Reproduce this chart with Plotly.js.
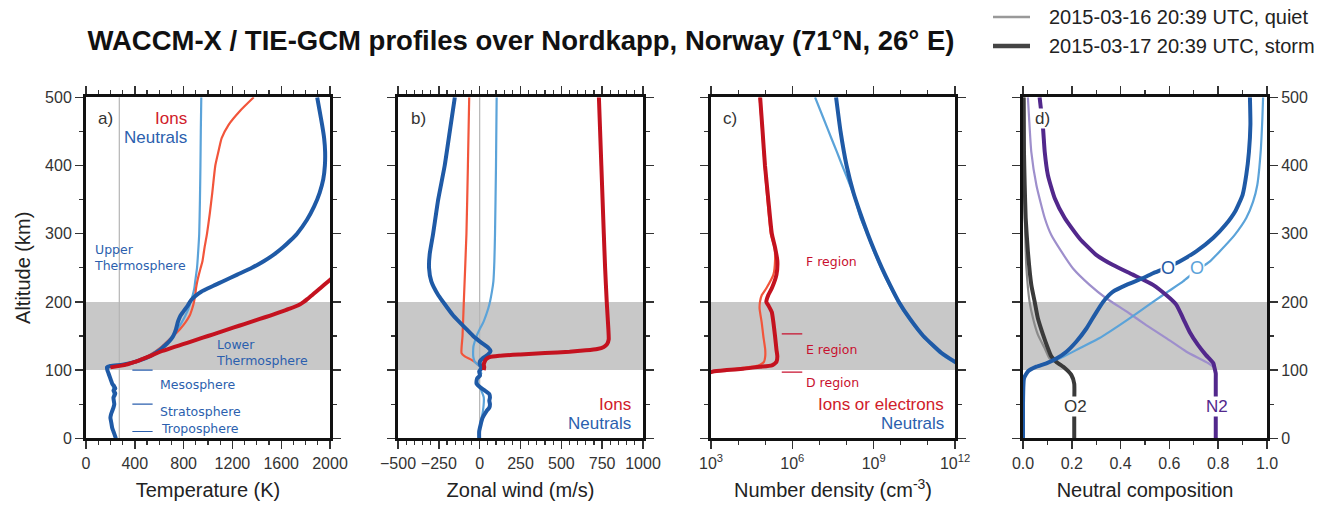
<!DOCTYPE html>
<html><head><meta charset="utf-8">
<script src="https://cdn.plot.ly/plotly-3.0.1.min.js"></script>
<style>html,body{margin:0;padding:0;background:#fff}#chart{width:1333px;height:506px}</style>
</head><body><div id="chart"></div>
<script>
// ---------- Panel a: temperature (K) ----------
const altTempStormNeutral = [0,5,10,15,20,25,30,35,40,45,50,55,60,63,66,70,73,76,80,85,90,95,100,104,106,108,111,115,120,125,130,135,140,145,150,155,160,165,170,175,180,185,190,195,200,205,210,215,220,225,230,240,250,260,270,280,290,300,320,340,360,380,400,420,440,460,480,500];
const tempStormNeutral = [245,235,225,215,210,205,200,205,215,225,232,228,225,235,240,225,240,232,215,205,195,185,175,172,200,300,380,450,520,570,610,640,670,695,715,728,738,745,752,762,775,795,815,835,852,875,905,945,1000,1060,1120,1240,1360,1460,1545,1615,1675,1730,1810,1870,1915,1945,1958,1960,1952,1935,1915,1895];
const altTempQuietNeutral = [0,10,20,30,40,50,60,70,80,90,100,104,106,108,111,115,120,125,130,135,140,145,150,160,170,180,190,200,210,220,230,250,275,300,350,400,450,500];
const tempQuietNeutral = [245,225,210,200,215,232,225,225,215,195,175,172,200,300,370,440,500,550,590,625,655,685,710,750,785,815,840,858,875,888,895,910,920,928,934,938,941,945];
const altTempQuietIon = [108,111,115,120,125,130,135,140,145,150,160,170,180,190,200,210,220,230,240,250,260,280,300,330,360,400,420,440,460,480,500];
const tempQuietIon = [300,370,440,500,550,590,625,655,685,715,770,815,850,870,885,895,902,912,925,940,955,972,992,1015,1035,1060,1085,1112,1170,1262,1375];
const altTempStormIon = [104,108,112,116,120,124,128,132,136,140,145,150,155,160,165,170,175,180,185,190,195,200,205,210,220,230,240];
const tempStormIon = [200,330,400,460,520,570,625,690,760,830,915,1000,1085,1170,1255,1340,1425,1510,1590,1670,1740,1785,1820,1855,1920,1985,2050];
const atmosphereBoundaryAlt = [100, 50, 10];
const atmosphereLayerNames = ["Mesosphere", "Stratosphere", "Troposphere"];
const referenceTemp = 273;

// ---------- Panel b: zonal wind (m/s) ----------
const altWindStormNeutral = [0,10,20,30,40,45,50,55,60,65,70,75,80,84,88,92,98,103,108,113,118,123,128,133,140,150,160,180,200,210,230,250,270,300,350,400,450,500];
const windStormNeutral = [-3,-3,6,18,42,59,63,59,63,59,32,2,-19,-19,-15,2,-3,12,2,2,22,52,67,52,12,-40,-81,-162,-224,-254,-296,-310,-306,-285,-254,-214,-183,-152];
const altWindQuietNeutral = [0,20,40,60,70,80,85,90,95,100,105,112,118,122,128,135,142,150,160,170,180,190,200,215,230,260,300,400,500];
const windQuietNeutral = [-3,3,20,25,10,-10,-20,-5,10,0,2,-30,-38,-40,-40,-38,-30,-19,0,22,38,52,63,75,84,90,94,100,104];
const altWindQuietIon = [100,105,110,115,120,125,150,200,300,400,500];
const windQuietIon = [2,2,-19,-50,-91,-111,-105,-97,-81,-72,-64];
const altWindStormIon = [100,104,108,112,116,119,121,123,125,127,129,131,134,138,145,160,200,250,300,400,500];
const windStormIon = [25,28,25,30,40,60,120,250,400,550,650,720,760,780,790,788,778,768,760,745,730];

// ---------- Panel c: number density (cm^-3) ----------
const altDensStormIon = [96,97,98,100,102,104,105,107,112,120,130,150,170,185,195,200,210,220,240,260,280,300,350,400,450,500];
const densStormIon = [7e2,1e3,1.2e3,3.8e3,1.55e4,4e4,6.5e4,1.75e5,2.6e5,2.8e5,2.6e5,2.3e5,2e5,1.75e5,1.3e5,1.1e5,1.3e5,1.75e5,2.6e5,2.8e5,2.3e5,1.75e5,1.3e5,9.8e4,8e4,6.5e4];
const altDensQuietIon = [97,98,100,102,104,106,108,112,120,130,150,170,190,200,210,220,240,260,280,300,350,400,450,500];
const densQuietIon = [8e2,1.1e3,2.5e3,8e3,2.1e4,4.5e4,6.5e4,9e4,1e5,1e5,8.5e4,7.4e4,6.2e4,6.4e4,7.5e4,1.1e5,2e5,2.3e5,2.2e5,1.6e5,1.2e5,9.5e4,7.8e4,6.2e4];
const altDensStormNeutral = [105,112,125,150,175,200,225,250,275,300,330,360,400,450,500];
const densStormNeutral = [2e12,1e12,3.2e11,6.8e10,2.2e10,8.5e9,4e9,2e9,1.07e9,6e8,3.2e8,1.8e8,1e8,6e7,4.1e7];
const altDensQuietNeutral = [105,112,125,150,175,200,225,250,275,300,323,350,371,400,420,440,470,500];
const densQuietNeutral = [2e12,8.9e11,2.8e11,6.3e10,2e10,7.9e9,3.7e9,1.86e9,1e9,5.75e8,3.3e8,2.1e8,1.35e8,6.9e7,4.4e7,2.75e7,1.38e7,6.9e6];
const ionosphereBoundaryAlt = [153, 97];

// ---------- Panel d: neutral composition ----------
const altCompStormO = [0,50,80,88,98,105,110,117,127,142,161,181,200,215,225,235,242,249,259,274,294,313,333,357,386,420,460,500];
const compStormO = [0,0,0.002,0.004,0.02,0.055,0.096,0.137,0.178,0.219,0.26,0.294,0.328,0.369,0.424,0.492,0.533,0.58,0.64,0.71,0.78,0.83,0.87,0.90,0.915,0.926,0.932,0.93];
const altCompQuietO = [0,50,80,90,98,107,117,132,147,166,186,200,215,230,244,259,274,298,323,347,371,420,469,500];
const compQuietO = [0,0,0.002,0.008,0.02,0.068,0.15,0.232,0.314,0.396,0.478,0.533,0.594,0.656,0.704,0.765,0.806,0.867,0.915,0.943,0.960,0.974,0.981,0.984];
const altCompStormN2 = [0,50,80,88,95,103,110,122,137,156,176,196,210,225,240,254,269,293,323,352,386,420,455,500];
const compStormN2 = [0.79,0.79,0.79,0.79,0.79,0.785,0.78,0.75,0.717,0.683,0.656,0.628,0.587,0.533,0.45,0.369,0.30,0.232,0.171,0.13,0.102,0.089,0.082,0.068];
const altCompQuietN2 = [0,50,80,95,103,110,127,147,166,186,205,225,249,274,298,323,371,420,469,500];
const compQuietN2 = [0.79,0.79,0.79,0.79,0.785,0.76,0.67,0.587,0.505,0.424,0.342,0.273,0.205,0.157,0.116,0.089,0.055,0.034,0.025,0.02];
const altCompStormO2 = [0,50,80,93,103,112,120,132,152,176,200,225,274,323,371,420,500];
const compStormO2 = [0.21,0.21,0.21,0.198,0.171,0.137,0.116,0.102,0.082,0.061,0.048,0.034,0.02,0.011,0.007,0.004,0.003];
const altCompQuietO2 = [0,50,80,93,103,110,117,132,152,176,200,249,298,371,500];
const compQuietO2 = [0.21,0.21,0.21,0.198,0.171,0.14,0.109,0.089,0.061,0.041,0.027,0.014,0.009,0.005,0.003];

const legendLabels = ["2015-03-16 20:39 UTC, quiet", "2015-03-17 20:39 UTC, storm"];
const tempTicks = [0,400,800,1200,1600,2000];
const windTicks = [-500,-250,0,250,500,750,1000];
const densTicks = [1e3,1e6,1e9,1e12];
const densTickText = ["10<sup>3</sup>","10<sup>6</sup>","10<sup>9</sup>","10<sup>12</sup>"];
const densMinorTicks = [1e4,1e5,1e7,1e8,1e10,1e11];
const compTicks = [0,0.2,0.4,0.6,0.8,1.0];
const altTicks = [0,100,200,300,400,500];

// ---------- styling ----------
const W = 1333, H = 506;
const px = v => v / W, py = v => 1 - v / H;
const C = {
  stormNeutral: '#1f5aa6', quietNeutral: '#5ba3d9',
  stormIon: '#c4121f', quietIon: '#f2553b',
  stormN2: '#52288c', quietN2: '#9e8fcc',
  stormO2: '#3a3a3a', quietO2: '#8a8a8a'
};
const WS = 4, WQ = 2.2;
function tr(x, y, color, width, n) {
  return {x: x, y: y, type: 'scatter', mode: 'lines', showlegend: false, hoverinfo: 'skip',
    line: {color: color, width: width, shape: 'spline', smoothing: 0.5},
    xaxis: n === 1 ? 'x' : 'x' + n, yaxis: n === 1 ? 'y' : 'y' + n};
}
const data = [
  tr(tempQuietNeutral, altTempQuietNeutral, C.quietNeutral, WQ, 1),
  tr(tempQuietIon, altTempQuietIon, C.quietIon, WQ, 1),
  tr(tempStormNeutral, altTempStormNeutral, C.stormNeutral, WS, 1),
  tr(tempStormIon, altTempStormIon, C.stormIon, WS, 1),
  tr(windQuietIon, altWindQuietIon, C.quietIon, WQ, 2),
  tr(windQuietNeutral, altWindQuietNeutral, C.quietNeutral, WQ, 2),
  tr(windStormNeutral, altWindStormNeutral, C.stormNeutral, WS, 2),
  tr(windStormIon, altWindStormIon, C.stormIon, WS, 2),
  tr(densQuietNeutral, altDensQuietNeutral, C.quietNeutral, WQ, 3),
  tr(densStormNeutral, altDensStormNeutral, C.stormNeutral, WS, 3),
  tr(densQuietIon, altDensQuietIon, C.quietIon, WQ, 3),
  tr(densStormIon, altDensStormIon, C.stormIon, WS, 3),
  tr(compQuietO2, altCompQuietO2, C.quietO2, WQ, 4),
  tr(compQuietN2, altCompQuietN2, C.quietN2, WQ, 4),
  tr(compQuietO, altCompQuietO, C.quietNeutral, WQ, 4),
  tr(compStormO2, altCompStormO2, C.stormO2, WS, 4),
  tr(compStormN2, altCompStormN2, C.stormN2, WS, 4),
  tr(compStormO, altCompStormO, C.stormNeutral, WS, 4)
];

const tickFont = {family: 'Liberation Sans, Arial, sans-serif', size: 16, color: '#333'};
const titleFont = {family: 'Liberation Sans, Arial, sans-serif', size: 20, color: '#222'};
const yDom = [py(438.3), py(97.3)];
const xDoms = [[px(86), px(330)], [px(398), px(643)], [px(711), px(955)], [px(1023), px(1267)]];
function frame(extra) {
  return Object.assign({
    showline: true, linecolor: '#111', linewidth: 3, mirror: 'ticks',
    ticks: 'outside', ticklen: 8, tickwidth: 1.4, tickcolor: '#333',
    showgrid: false, zeroline: false, tickfont: tickFont, fixedrange: true
  }, extra);
}
const minorLin = d => ({dtick: d, ticks: 'outside', ticklen: 4, tickwidth: 1.2, tickcolor: '#333', showgrid: false});
function yax(n, extra) {
  return frame(Object.assign({domain: yDom, range: [0, 500], anchor: n === 1 ? 'x' : 'x' + n,
    tickmode: 'array', tickvals: altTicks, minor: minorLin(50)}, extra));
}
const layout = {
  width: W, height: H, margin: {l: 0, r: 0, t: 0, b: 0},
  paper_bgcolor: '#fff', plot_bgcolor: 'rgba(0,0,0,0)',
  title: {text: '<b>WACCM-X / TIE-GCM profiles over Nordkapp, Norway (71°N, 26° E)</b>',
    x: px(521), y: py(40), xref: 'paper', yref: 'paper', xanchor: 'center', yanchor: 'middle',
    font: {family: 'Liberation Sans, Arial, sans-serif', size: 27.5, color: '#111'}},
  xaxis: frame({domain: xDoms[0], range: [0, 2000], anchor: 'y', tickmode: 'array', tickvals: tempTicks,
    minor: minorLin(100), title: {text: 'Temperature (K)', font: titleFont, standoff: 13}}),
  xaxis2: frame({domain: xDoms[1], range: [-500, 1000], anchor: 'y2', tickmode: 'array', tickvals: windTicks,
    minor: minorLin(50), title: {text: 'Zonal wind (m/s)', font: titleFont, standoff: 13}}),
  xaxis3: frame({domain: xDoms[2], type: 'log', range: [3, 12], anchor: 'y3', tickmode: 'array',
    tickvals: densTicks, ticktext: densTickText,
    minor: {tickmode: 'array', tickvals: densMinorTicks, ticks: 'outside', ticklen: 4, tickwidth: 1.2, tickcolor: '#333', showgrid: false},
    title: {text: 'Number density (cm<sup>-3</sup>)', font: titleFont, standoff: 13}}),
  xaxis4: frame({domain: xDoms[3], range: [0, 1], anchor: 'y4', tickmode: 'array', tickvals: compTicks,
    tickformat: '.1f', minor: minorLin(0.1), title: {text: 'Neutral composition', font: titleFont, standoff: 13}}),
  yaxis: yax(1, {title: {text: 'Altitude (km)', font: titleFont, standoff: 10}}),
  yaxis2: yax(2, {showticklabels: false}),
  yaxis3: yax(3, {showticklabels: false}),
  yaxis4: yax(4, {side: 'right'}),
  shapes: [], annotations: []
};
// grey band 100-200 km
for (let n = 1; n <= 4; n++) {
  const s = n === 1 ? '' : n;
  layout.shapes.push({type: 'rect', xref: 'x' + s + ' domain', yref: 'y' + s, x0: 0, x1: 1, y0: 100, y1: 200,
    fillcolor: '#c8c8c8', line: {width: 0}, layer: 'below'});
}
layout.shapes.push({type: 'line', xref: 'x', yref: 'y domain', x0: referenceTemp, x1: referenceTemp, y0: 0, y1: 1,
  line: {color: '#b4b4b4', width: 1.2}, layer: 'below'});
layout.shapes.push({type: 'line', xref: 'x2', yref: 'y2 domain', x0: 0, x1: 0, y0: 0, y1: 1,
  line: {color: '#b4b4b4', width: 1.2}, layer: 'below'});
atmosphereBoundaryAlt.forEach(a => layout.shapes.push({type: 'line', xref: 'x domain', yref: 'y',
  x0: 0.19, x1: 0.273, y0: a, y1: a, line: {color: '#2b5fae', width: 1.2}}));
ionosphereBoundaryAlt.forEach(a => layout.shapes.push({type: 'line', xref: 'x3 domain', yref: 'y3',
  x0: 0.29, x1: 0.374, y0: a, y1: a, line: {color: '#c8102e', width: 1.2}}));
// legend (manual)
layout.shapes.push({type: 'line', xref: 'paper', yref: 'paper', x0: px(993), x1: px(1030), y0: py(17), y1: py(17),
  line: {color: '#999', width: 2.5}});
layout.shapes.push({type: 'line', xref: 'paper', yref: 'paper', x0: px(993), x1: px(1030), y0: py(46), y1: py(46),
  line: {color: '#444', width: 4.5}});

const hv = 'Liberation Sans, Arial, sans-serif', dv = 'DejaVu Sans, sans-serif';
function ann(text, x, y, o) {
  layout.annotations.push(Object.assign({text: text, x: px(x), y: py(y), xref: 'paper', yref: 'paper',
    showarrow: false, xanchor: 'center', yanchor: 'middle', font: {family: hv, size: 17, color: '#333'}}, o || {}));
}
ann(legendLabels[0], 1047, 17, {xanchor: 'left', font: {family: hv, size: 20, color: '#222'}});
ann(legendLabels[1], 1047, 46, {xanchor: 'left', font: {family: hv, size: 20, color: '#222'}});
ann('a)', 105, 118);
ann('Ions', 189, 118, {xanchor: 'right', font: {family: hv, size: 17, color: '#d0202a'}});
ann('Neutrals', 189, 137, {xanchor: 'right', font: {family: hv, size: 17, color: '#2b5fae'}});
const blueDv = {family: dv, size: 12.5, color: '#2b5fae'};
ann('Upper<br>Thermosphere', 92, 257, {xanchor: 'left', align: 'left', font: blueDv});
ann('Lower<br>Thermosphere', 214, 352, {xanchor: 'left', align: 'left', font: blueDv});
ann(atmosphereLayerNames[0], 158, 384, {xanchor: 'left', font: blueDv});
ann(atmosphereLayerNames[1], 158, 411, {xanchor: 'left', font: blueDv});
ann(atmosphereLayerNames[2], 159, 428, {xanchor: 'left', font: blueDv});
ann('b)', 418, 118);
ann('Ions', 633, 404, {xanchor: 'right', font: {family: hv, size: 17, color: '#d0202a'}});
ann('Neutrals', 633, 423, {xanchor: 'right', font: {family: hv, size: 17, color: '#2b5fae'}});
ann('c)', 730, 119);
const redDv = {family: dv, size: 12.5, color: '#c8102e'};
ann('F region', 804, 261, {xanchor: 'left', font: redDv});
ann('E region', 804, 349, {xanchor: 'left', font: redDv});
ann('D region', 804, 382, {xanchor: 'left', font: redDv});
ann('Ions or electrons', 946, 404, {xanchor: 'right', font: {family: hv, size: 17, color: '#d0202a'}});
ann('Neutrals', 946, 423, {xanchor: 'right', font: {family: hv, size: 17, color: '#2b5fae'}});
ann('d)', 1042, 119, {bgcolor: '#fff', borderpad: 0});
ann('O', 1168, 268, {bgcolor: '#fff', borderpad: 0, font: {family: hv, size: 18, color: C.stormNeutral}});
ann('O', 1197, 268, {bgcolor: '#fff', borderpad: 0, font: {family: hv, size: 18, color: C.quietNeutral}});
ann('O2', 1075, 406, {bgcolor: '#fff', borderpad: 0, font: {family: hv, size: 17, color: '#333'}});
ann('N2', 1217, 406, {bgcolor: '#fff', borderpad: 0, font: {family: hv, size: 17, color: C.stormN2}});

Plotly.newPlot('chart', data, layout, {displayModeBar: false, staticPlot: true});
</script></body></html>
